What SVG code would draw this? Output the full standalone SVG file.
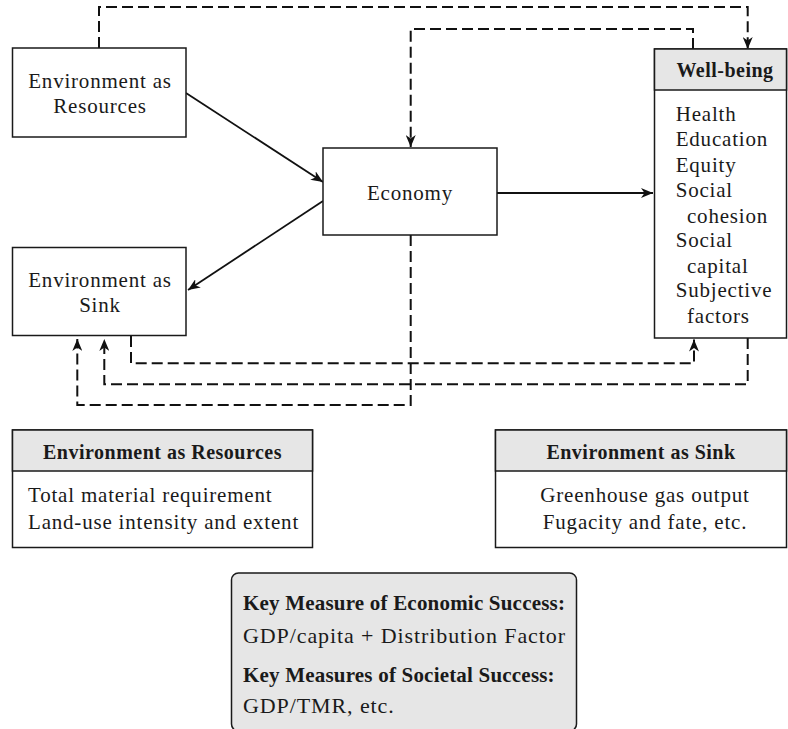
<svg xmlns="http://www.w3.org/2000/svg" width="788" height="729" viewBox="0 0 788 729">
<style>
  .box { fill: #ffffff; stroke: #1a1a1a; stroke-width: 1.5; }
  .hdr { fill: #e6e6e6; stroke: #1a1a1a; stroke-width: 1.5; }
  .t { font-family: "Liberation Serif", "Times New Roman", serif; font-size: 21px; letter-spacing: 0.8px; fill: #1a1a1a; }
  .b { font-family: "Liberation Serif", "Times New Roman", serif; font-size: 20px; font-weight: bold; letter-spacing: 0.5px; fill: #1a1a1a; }
  .k { font-family: "Liberation Serif", "Times New Roman", serif; font-size: 22px; letter-spacing: 0.9px; fill: #1a1a1a; }
  .kb { font-family: "Liberation Serif", "Times New Roman", serif; font-size: 21px; font-weight: bold; letter-spacing: 0.2px; fill: #1a1a1a; }
  .c { text-anchor: middle; }
  .solid { fill: none; stroke: #111; stroke-width: 1.8; }
  .dash { fill: none; stroke: #111; stroke-width: 2; stroke-dasharray: 11 5; }
</style>
<defs>
  <marker id="ah" markerWidth="13" markerHeight="10" refX="12" refY="5" orient="auto" markerUnits="userSpaceOnUse">
    <path d="M0,0 L12,5 L0,10 L3.5,5 z" fill="#111"/>
  </marker>
</defs>

<g id="connectors">
  <line class="solid" x1="186" y1="93" x2="323" y2="182" marker-end="url(#ah)"/>
  <line class="solid" x1="323" y1="201" x2="188" y2="290" marker-end="url(#ah)"/>
  <line class="solid" x1="497" y1="193" x2="653" y2="193" marker-end="url(#ah)"/>
  <path class="dash" d="M99,48 V7 H747.7 V49" marker-end="url(#ah)"/>
  <path class="dash" d="M693,49 V29 H410.7 V147" marker-end="url(#ah)"/>
  <path class="dash" d="M131,336 V363.3 H694 V339.5" marker-end="url(#ah)"/>
  <path class="dash" d="M747.7,338 V384.3 H104.3 V339" marker-end="url(#ah)"/>
  <path class="dash" d="M410.7,235 V405 H77.3 V339" marker-end="url(#ah)"/>
</g>

<g id="env-resources">
  <rect class="box" x="12.5" y="48" width="173.5" height="89"/>
  <text class="t c" x="100" y="88">Environment as</text>
  <text class="t c" x="100" y="113">Resources</text>
</g>

<g id="env-sink">
  <rect class="box" x="12.5" y="247.5" width="173.5" height="88"/>
  <text class="t c" x="100" y="287">Environment as</text>
  <text class="t c" x="100" y="312">Sink</text>
</g>

<g id="economy">
  <rect class="box" x="323" y="148" width="174" height="87"/>
  <text class="t c" x="410" y="200">Economy</text>
</g>

<g id="well-being">
  <rect class="box" x="654.5" y="49" width="132" height="289"/>
  <rect class="hdr" x="654.5" y="49" width="132" height="41"/>
  <text class="b c" x="725" y="77">Well-being</text>
  <text class="t" x="675.7" y="120.5">Health</text>
  <text class="t" x="675.7" y="146">Education</text>
  <text class="t" x="675.7" y="171.5">Equity</text>
  <text class="t" x="675.7" y="197">Social</text>
  <text class="t" x="687" y="222.5">cohesion</text>
  <text class="t" x="675.7" y="247">Social</text>
  <text class="t" x="687" y="272.5">capital</text>
  <text class="t" x="675.7" y="297">Subjective</text>
  <text class="t" x="687" y="322.5">factors</text>
</g>

<g id="resources-measures">
  <rect class="box" x="12.5" y="430" width="300" height="117.5"/>
  <rect class="hdr" x="12.5" y="430" width="300" height="41"/>
  <text class="b c" x="162.5" y="459">Environment as Resources</text>
  <text class="t" x="28" y="501.5">Total material requirement</text>
  <text class="t" x="28" y="529">Land-use intensity and extent</text>
</g>

<g id="sink-measures">
  <rect class="box" x="495.5" y="430" width="291" height="117.5"/>
  <rect class="hdr" x="495.5" y="430" width="291" height="41"/>
  <text class="b c" x="641" y="459">Environment as Sink</text>
  <text class="t c" x="645" y="501.5">Greenhouse gas output</text>
  <text class="t c" x="645" y="529">Fugacity and fate, etc.</text>
</g>

<g id="key-measures">
  <rect class="hdr" x="231.5" y="573" width="345" height="158" rx="7" ry="7"/>
  <text class="kb" x="243" y="610">Key Measure of Economic Success:</text>
  <text class="k" x="243" y="642.5">GDP/capita + Distribution Factor</text>
  <text class="kb" x="243" y="681.5">Key Measures of Societal Success:</text>
  <text class="k" x="243" y="713">GDP/TMR, etc.</text>
</g>
</svg>
